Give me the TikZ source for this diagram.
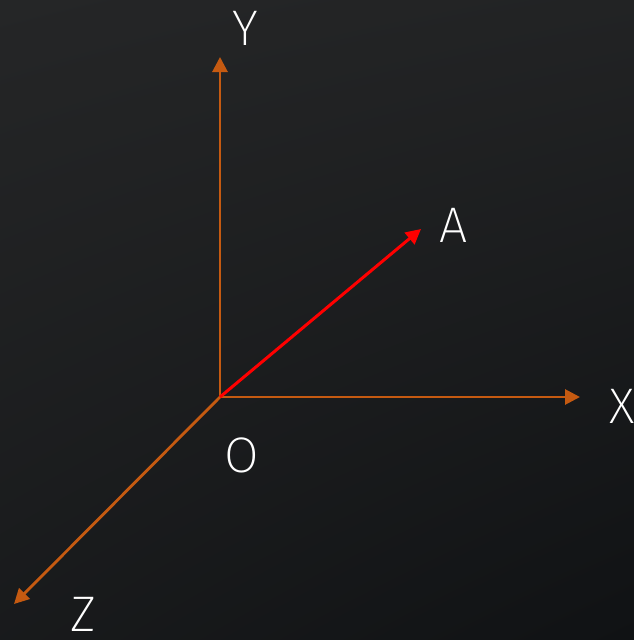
\documentclass[tikz,border=0pt]{standalone}
\usepackage{fontspec}
\setmainfont{Fira Sans ExtraLight}
\usetikzlibrary{arrows.meta,positioning,shadings}
\definecolor{axisorange}{HTML}{C55A11}
\definecolor{bgtop}{HTML}{252627}
\definecolor{bgbot}{HTML}{101214}
\tikzset{
  axis/.style={line width=2.8pt, axisorange, -{Triangle[length=15pt,width=15pt]}},
  vec/.style={line width=3pt, red, -{Triangle[length=15pt,width=15pt]}},
  lbl/.style={white, inner sep=0pt, font=\fontsize{50}{50}\selectfont}
}
\begin{document}
\begin{tikzpicture}[x=1pt,y=-1pt]
    % background
    \clip (0,0) rectangle (634,640);
    \shade[upper left=bgtop, upper right=bgtop!85!bgbot, lower left=bgtop!40!bgbot, lower right=bgbot] (0,0) rectangle (634,640);
    % points
    \coordinate (O) at (220,397);
    \coordinate (Ytip) at (220,57);
    \coordinate (Xtip) at (580,397);
    \coordinate (Ztip) at (14,604);
    \coordinate (Atip) at (421,229);
    % axes
    \draw[axis] (O) -- (Ytip);
    \draw[axis] (O) -- (Xtip);
    \draw[axis] (O) -- (Ztip);
    % vector A
    \draw[vec] (O) -- (Atip);
    % labels
    \node[lbl] (ylab) at (245,28) {Y};
    \node[lbl] (xlab) at (622,406) {X};
    \node[lbl] (zlab) at (83,614) {Z};
    \node[lbl] (olab) at (242,455) {O};
    \node[lbl] (alab) at (454,225) {A};
\end{tikzpicture}
\end{document}
